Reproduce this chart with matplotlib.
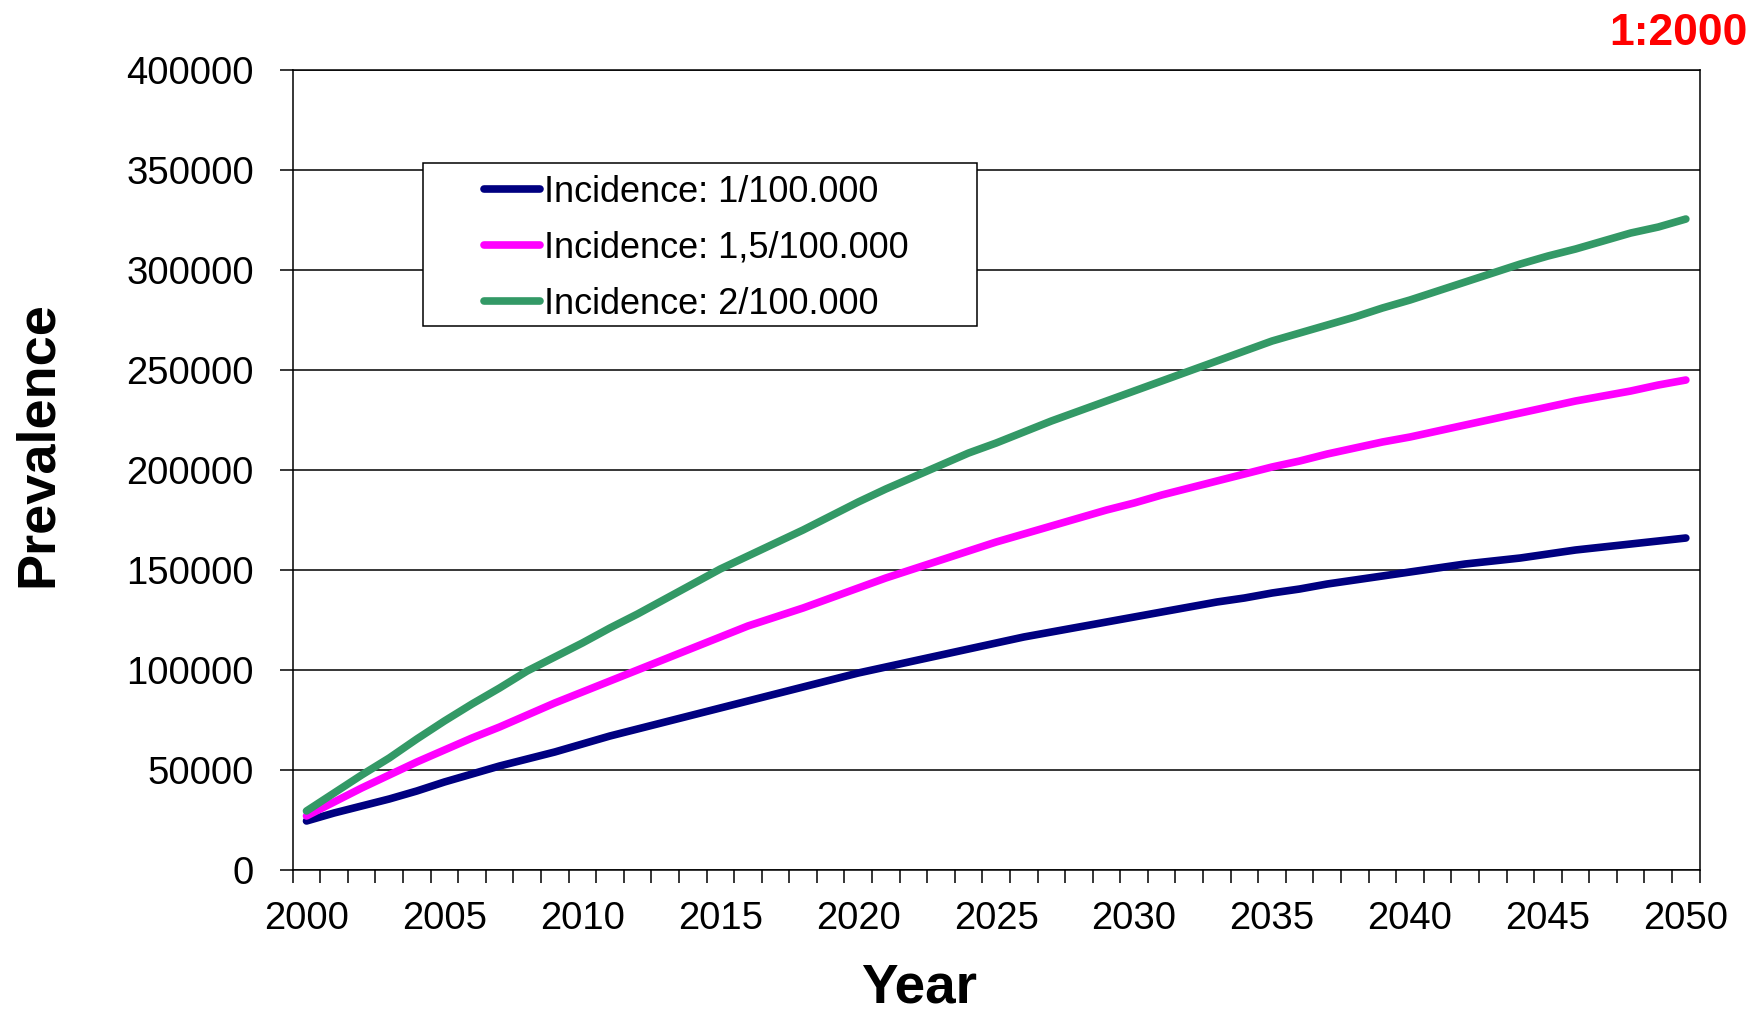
import numpy as np
import matplotlib.pyplot as plt
from matplotlib.patches import Rectangle
from matplotlib.ticker import MultipleLocator, FixedLocator

plt.rcParams['font.family'] = ['Liberation Sans', 'DejaVu Sans']

years = list(range(2000, 2051))

# prevalence per year for each incidence scenario
prev_1 = [24500, 28500, 32000, 35500, 39500, 44000, 48000, 52000, 55500, 59000,
          63000, 67000, 70500, 74000, 77500, 81000, 84500, 88000, 91500, 95000,
          98500, 101500, 104500, 107500, 110500, 113500, 116500, 119000, 121500, 124000,
          126500, 129000, 131500, 134000, 136000, 138500, 140500, 143000, 145000, 147000,
          149000, 151000, 153000, 154500, 156000, 158000, 160000, 161500, 163000, 164500,
          166000]
prev_15 = [27000, 34000, 41000, 47500, 54000, 60000, 66000, 71500, 77500, 83500,
           89000, 94500, 100000, 105500, 111000, 116500, 122000, 126500, 131000, 136000,
           141000, 146000, 150500, 155000, 159500, 164000, 168000, 172000, 176000, 180000,
           183500, 187500, 191000, 194500, 198000, 201500, 204500, 208000, 211000, 214000,
           216500, 219500, 222500, 225500, 228500, 231500, 234500, 237000, 239500, 242500,
           245000]
prev_2 = [29500, 38500, 47500, 56000, 65500, 74500, 83000, 91000, 99500, 106500,
          113500, 121000, 128000, 135500, 143000, 150500, 157000, 163500, 170000, 177000,
          184000, 190500, 196500, 202500, 208500, 213500, 219000, 224500, 229500, 234500,
          239500, 244500, 249500, 254500, 259500, 264500, 268500, 272500, 276500, 281000,
          285000, 289500, 294000, 298500, 303000, 307000, 310500, 314500, 318500, 321500,
          325500]

labels = ["Incidence: 1/100.000", "Incidence: 1,5/100.000", "Incidence: 2/100.000"]
colors = ["#000080", "#FF00FF", "#339966"]

fig = plt.figure(figsize=(17.58, 10.18), dpi=100)
ax = fig.add_axes([0.1665, 0.1454, 0.8003, 0.7858])

for vals, lab, col in zip([prev_1, prev_15, prev_2], labels, colors):
    ax.plot(years, vals, color=col, lw=5.5, label=lab,
            solid_capstyle='round', solid_joinstyle='round', zorder=3)

ax.set_xlim(1999.5, 2050.5)
ax.set_ylim(0, 400000)

# category style axis: labels at year centres, tick marks between years
ax.xaxis.set_major_locator(FixedLocator(range(2000, 2051, 5)))
ax.xaxis.set_minor_locator(FixedLocator(np.arange(1999.5, 2051, 1.0)))
ax.yaxis.set_major_locator(MultipleLocator(50000))
ax.tick_params(axis='x', which='major', length=0, pad=22, labelsize=27.5)
ax.tick_params(axis='x', which='minor', length=9.4, width=1.1, direction='out')
ax.tick_params(axis='y', which='major', length=9.4, width=1.1, pad=18.5,
               labelsize=27.5, direction='out')

ax.grid(axis='y', color='black', lw=1.1, zorder=1)
ax.set_axisbelow(True)
for sp in ax.spines.values():
    sp.set_linewidth(1.1)
    sp.set_color('black')

# legend box
box = Rectangle((0.0927, 0.68), 0.394, 0.204, transform=ax.transAxes,
                facecolor='white', edgecolor='black', lw=1.1, zorder=4)
ax.add_patch(box)
leg = ax.legend(loc='upper left', bbox_to_anchor=(484 / 1758, 1 - 175 / 1018),
                bbox_transform=fig.transFigure, frameon=False, fontsize=26,
                handlelength=1.55, handletextpad=0.1, labelspacing=0.58,
                borderpad=0, borderaxespad=0)
leg.set_zorder(5)

fig.text(37.5 / 1758, 1 - 444 / 1018, "Prevalence", rotation=90, ha='center',
         va='center', fontsize=39, fontweight='bold')
fig.text(919 / 1758, 0.003, "Year", ha='center', va='bottom',
         fontsize=39.5, fontweight='bold')
fig.text(1748 / 1758, 1 - 45 / 1018, "1:2000", ha='right', va='baseline',
         fontsize=32, fontweight='bold', color='red')

fig.savefig("out.png", dpi=100)
